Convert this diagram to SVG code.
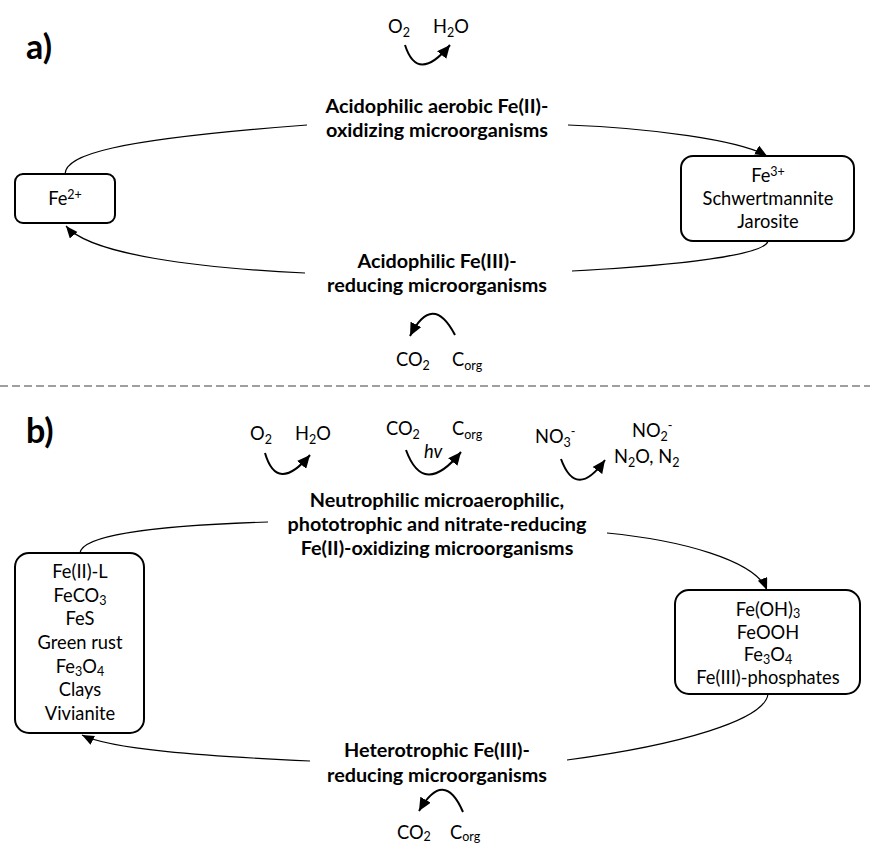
<svg xmlns="http://www.w3.org/2000/svg" width="870" height="844" viewBox="0 0 870 844">
<style>
.t{font-family:Lato,"Liberation Sans",sans-serif;font-size:18.3px;fill:#000}
.b{font-weight:bold;font-size:19.8px}
.lbl{font-family:Lato,"Liberation Sans",sans-serif;font-weight:bold;font-size:34px;fill:#000}
.box{fill:#fff;stroke:#000;stroke-width:2}
.conn{fill:none;stroke:#000;stroke-width:1.2}
.arc{fill:none;stroke:#000;stroke-width:2}
.sub{font-size:12.5px}
</style>
<defs>
<marker id="ah" markerUnits="userSpaceOnUse" markerWidth="13" markerHeight="11" refX="12" refY="5" orient="auto">
<path d="M0,0 L12,5 L0,10 z" fill="#000"/>
</marker>
<marker id="ah2" markerUnits="userSpaceOnUse" markerWidth="14" markerHeight="12" refX="13" refY="6" orient="auto">
<path d="M0,0 L13,6 L0,12 z" fill="#000"/>
</marker>
</defs>
<rect width="870" height="844" fill="#fff"/>

<text class="lbl" x="26" y="59">a)</text>
<text class="lbl" x="26" y="443">b)</text>
<line x1="0" y1="386" x2="870" y2="386" stroke="#808080" stroke-width="1.3" stroke-dasharray="8,4"/>

<g id="connectors">
<path class="conn" d="M65,174 C66,155 110,140 307,125"/>
<path class="conn" d="M568,125 C650,128 740,140 767,156" marker-end="url(#ah)"/>
<path class="conn" d="M768,241 C765,255 680,265 572,271"/>
<path class="conn" d="M305,273 C200,268 90,255 66,226" marker-end="url(#ah)"/>
<path class="conn" d="M80,553 C82,535 150,526 268,522"/>
<path class="conn" d="M607,533 C680,540 755,560 767,590" marker-end="url(#ah)"/>
<path class="conn" d="M768,694 C765,720 680,745 567,760"/>
<path class="conn" d="M310,761 C200,756 110,749 82,735" marker-end="url(#ah)"/>
<path class="arc" d="M405,45 Q417.5,84 450,45" marker-end="url(#ah2)"/>
<path class="arc" d="M455,335 Q432.5,292 410,336" marker-end="url(#ah2)"/>
<path class="arc" d="M265,453 Q277,494 310,455" marker-end="url(#ah2)"/>
<path class="arc" d="M406,450 Q423.5,498 461,452" marker-end="url(#ah2)"/>
<path class="arc" d="M561,459 Q576,500 605,460" marker-end="url(#ah2)"/>
<path class="arc" d="M463,812 Q444,768 419,811" marker-end="url(#ah2)"/>
</g>

<g id="a-oxidizers">
<text class="t b" x="437" y="113" text-anchor="middle">Acidophilic aerobic Fe(II)-</text>
<text class="t b" x="437" y="137" text-anchor="middle">oxidizing microorganisms</text>
<text class="t" x="388" y="33">O<tspan class="sub" dy="4">2</tspan></text>
<text class="t" x="433" y="33">H<tspan class="sub" dy="4">2</tspan><tspan dy="-4">O</tspan></text>
</g>

<g id="a-reducers">
<text class="t b" x="437" y="268" text-anchor="middle">Acidophilic Fe(III)-</text>
<text class="t b" x="437" y="292" text-anchor="middle">reducing microorganisms</text>
<text class="t" x="396" y="366">CO<tspan class="sub" dy="4">2</tspan></text>
<text class="t" x="452" y="366">C<tspan class="sub" dy="4">org</tspan></text>
</g>

<g id="a-fe2">
<rect class="box" x="15" y="174" width="100" height="49" rx="8"/>
<text class="t" x="65" y="205" text-anchor="middle">Fe<tspan class="sub" dy="-6">2+</tspan></text>
</g>

<g id="a-fe3">
<rect class="box" x="681" y="156" width="173" height="85" rx="12"/>
<text class="t" x="768" y="182" text-anchor="middle">Fe<tspan class="sub" dy="-6">3+</tspan></text>
<text class="t" x="768" y="205" text-anchor="middle">Schwertmannite</text>
<text class="t" x="768" y="228" text-anchor="middle">Jarosite</text>
</g>

<g id="b-oxidizers">
<text class="t b" x="437" y="507" text-anchor="middle">Neutrophilic microaerophilic,</text>
<text class="t b" x="437" y="531" text-anchor="middle">phototrophic and nitrate-reducing</text>
<text class="t b" x="437" y="555" text-anchor="middle">Fe(II)-oxidizing microorganisms</text>
<text class="t" x="250" y="440">O<tspan class="sub" dy="4">2</tspan></text>
<text class="t" x="295" y="440">H<tspan class="sub" dy="4">2</tspan><tspan dy="-4">O</tspan></text>
<text class="t" x="386" y="435">CO<tspan class="sub" dy="4">2</tspan></text>
<text class="t" x="452" y="435">C<tspan class="sub" dy="4">org</tspan></text>
<text class="t" x="424" y="458" font-style="italic">hv</text>
<text class="t" x="535" y="443">NO<tspan class="sub" dy="4">3</tspan><tspan class="sub" dy="-11">-</tspan></text>
<text class="t" x="632" y="437">NO<tspan class="sub" dy="4">2</tspan><tspan class="sub" dy="-11">-</tspan></text>
<text class="t" x="614" y="463">N<tspan class="sub" dy="4">2</tspan><tspan dy="-4">O, N</tspan><tspan class="sub" dy="4">2</tspan></text>
</g>

<g id="b-reducers">
<text class="t b" x="437" y="757" text-anchor="middle">Heterotrophic Fe(III)-</text>
<text class="t b" x="437" y="782" text-anchor="middle">reducing microorganisms</text>
<text class="t" x="397" y="839">CO<tspan class="sub" dy="2">2</tspan></text>
<text class="t" x="450" y="839">C<tspan class="sub" dy="2">org</tspan></text>
</g>

<g id="b-fe2">
<rect class="box" x="15" y="553" width="129" height="180" rx="14"/>
<text class="t" x="80" y="578" text-anchor="middle">Fe(II)-L</text>
<text class="t" x="80" y="601.7" text-anchor="middle">FeCO<tspan class="sub" dy="3">3</tspan></text>
<text class="t" x="80" y="625.3" text-anchor="middle">FeS</text>
<text class="t" x="80" y="649" text-anchor="middle">Green rust</text>
<text class="t" x="80" y="672.7" text-anchor="middle">Fe<tspan class="sub" dy="3">3</tspan><tspan dy="-3">O</tspan><tspan class="sub" dy="3">4</tspan></text>
<text class="t" x="80" y="696.3" text-anchor="middle">Clays</text>
<text class="t" x="80" y="720" text-anchor="middle">Vivianite</text>
</g>

<g id="b-fe3">
<rect class="box" x="675" y="590" width="185" height="104" rx="14"/>
<text class="t" x="768" y="616" text-anchor="middle">Fe(OH)<tspan class="sub" dy="2">3</tspan></text>
<text class="t" x="768" y="639" text-anchor="middle">FeOOH</text>
<text class="t" x="768" y="661" text-anchor="middle">Fe<tspan class="sub" dy="3">3</tspan><tspan dy="-3">O</tspan><tspan class="sub" dy="3">4</tspan></text>
<text class="t" x="768" y="684" text-anchor="middle">Fe(III)-phosphates</text>
</g>
</svg>
